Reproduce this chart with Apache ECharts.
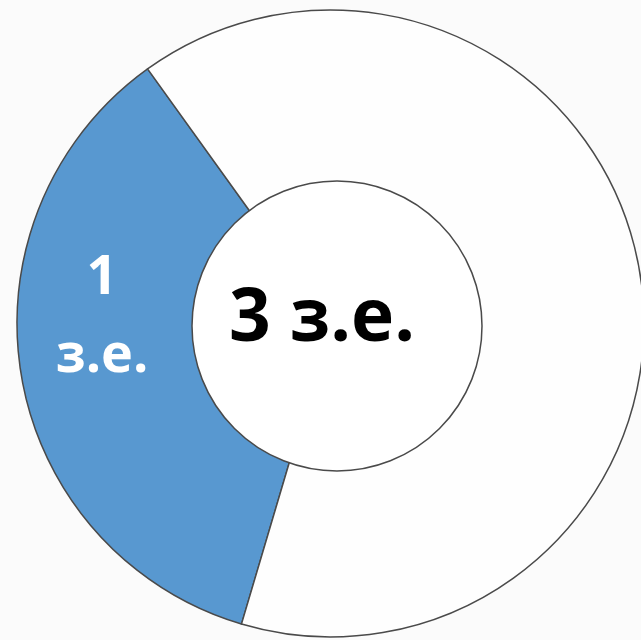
<!DOCTYPE html>
<html>
<head>
<meta charset="utf-8">
<script src="https://cdn.jsdelivr.net/npm/echarts@6/dist/echarts.min.js"></script>
<style>
html,body{margin:0;padding:0;background:#fbfbfb;}
#chart{width:641px;height:640px;}
</style>
</head>
<body>
<div id="chart"></div>
<script>
// Share of the ring (percent)
const sliceNames = ['1 з.е.', 'остальное'];
const sliceValues = [35.5, 64.5];
const sliceLabels = ['1\nз.е.', ''];
const sliceColors = ['#5898d0', '#fefefe'];
const totalValue = [3];
const centerLabel = ['3 з.е.'];

const chart = echarts.init(document.getElementById('chart'), null, {renderer: 'canvas'});
chart.setOption({
  backgroundColor: '#fbfbfb',
  animation: false,
  series: [
    {
      type: 'pie',
      center: [330.5, 323.5],
      radius: [0, 313.5],
      startAngle: 253.5,
      clockwise: true,
      silent: true,
      itemStyle: {borderColor: '#4a4a4a', borderWidth: 1.5},
      label: {
        show: true,
        position: 'inside',
        formatter: p => sliceLabels[p.dataIndex],
        color: '#ffffff',
        fontFamily: 'Open Sans',
        fontWeight: 'bold',
        fontSize: 54,
        lineHeight: 78,
        align: 'center'
      },
      labelLayout: p => p.dataIndex === 0 ? {x: 102, y: 318, align: 'center', verticalAlign: 'middle'} : {},
      labelLine: {show: false},
      emphasis: {disabled: true},
      data: sliceValues.map((v, i) => ({value: v, name: sliceNames[i], itemStyle: {color: sliceColors[i]}}))
    },
    {
      type: 'pie',
      center: [337, 326],
      radius: [0, 145],
      silent: true,
      itemStyle: {color: '#ffffff', borderColor: '#4a4a4a', borderWidth: 1.5},
      label: {
        show: true,
        position: 'center',
        formatter: p => centerLabel[p.dataIndex],
        color: '#000000',
        fontFamily: 'Open Sans',
        fontWeight: 'bold',
        fontSize: 73
      },
      labelLayout: {x: 322, y: 320, align: 'center', verticalAlign: 'middle'},
      labelLine: {show: false},
      emphasis: {disabled: true},
      data: totalValue.map((v, i) => ({value: v, name: centerLabel[i]}))
    }
  ]
});
</script>
</body>
</html>
